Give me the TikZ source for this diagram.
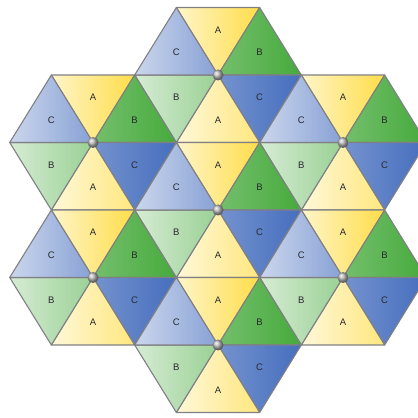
\documentclass[tikz,border=0pt]{standalone}
\usepackage{fontspec}
\setmainfont{Liberation Sans}
\usetikzlibrary{calc}
\definecolor{sun}{RGB}{255,215,40}
\definecolor{leaf}{RGB}{70,170,60}
\definecolor{sky}{RGB}{70,110,190}
\definecolor{edge}{RGB}{128,128,132}
\definecolor{ink}{RGB}{40,40,45}
\tikzset{
  tri/.style={draw=edge,line width=1.1pt,line join=round},
  lbl/.style={font=\fontsize{9.5}{9.5}\selectfont,text=ink,inner sep=0pt},
  knob/.style={circle,inner sep=0pt,minimum size=11pt,ball color=gray!55},
  % one hexagon of six shaded triangles
  pics/hexa/.style={code={
    \foreach \a/\l/\cl/\cd [count=\i] in {60/A/sun!25/sun!85,0/B/leaf!75/leaf,-60/C/sky!75/sky,
        240/A/sun!18/sun!60,180/B/leaf!22/leaf!55,120/C/sky!28/sky!65}{
      \draw[tri,left color=\cl,right color=\cd] (0,0) -- (\a:83.3pt and 77.9pt) -- (\a+60:83.3pt and 77.9pt) -- cycle;
      \node[lbl] (-t\i) at (\a+30:48.1pt and 45pt) {\l};
    }
    \node[knob] (-c) at (0,0) {};
  }},
}

\begin{document}
\begin{tikzpicture}[x=1pt,y=1pt]
  \clip (0,0) rectangle (418,418);
  \foreach \x/\y [count=\n] in {218/343,93/275.5,343/275.5,218/208,93/140.5,343/140.5,218/73}
    \pic (h\n) at (\x,\y) {hexa};
\end{tikzpicture}
\end{document}
